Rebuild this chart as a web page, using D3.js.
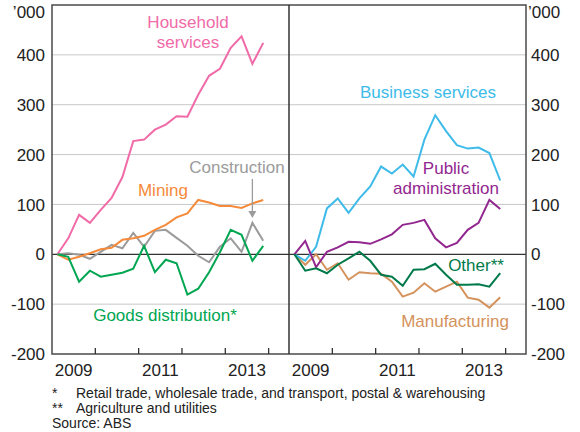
<!DOCTYPE html>
<html><head><meta charset="utf-8">
<script src="https://cdn.jsdelivr.net/npm/d3@7"></script>
<style>
html,body{margin:0;padding:0;background:#fff;}
text{font-family:"Liberation Sans",Arial,sans-serif;}
</style></head>
<body><svg id="c" width="580" height="432"></svg>
<script>
// quarterly observations, Feb 2009 - Nov 2013 (cumulative change, '000)
const quarters = d3.range(20).map(i => 2009.125 + i * 0.25);

const household = [0, 32, 79, 63, 89, 113, 155, 227, 230, 250, 260, 277, 276, 320, 358, 372, 414, 437, 382, 424];
const mining = [0, -11, -5, 2, 10, 13, 29, 32, 37, 49, 59, 74, 82, 109, 104, 97, 97, 93, 102, 109];
const construction = [0, 2, -1, -9, 5, 19, 12, 43, 15, 47, 49, 33, 17, -3, -16, 15, 32, 5, 63, 27];
const goodsDistribution = [0, -5, -55, -33, -45, -41, -37, -29, 17, -36, -11, -18, -81, -69, -36, 4, 49, 39, -13, 17];

const business = [0, -13, 15, 92, 112, 83, 112, 136, 176, 162, 180, 156, 230, 279, 247, 219, 212, 214, 203, 148];
const publicAdmin = [0, 27, -26, 5, 14, 25, 24, 21, 30, 40, 59, 63, 69, 32, 14, 23, 49, 63, 109, 91];
const other = [0, -33, -28, -38, -21, -8, 5, -13, -41, -45, -63, -31, -30, -19, -41, -61, -61, -60, -65, -38];
const manufacturing = [0, -21, 0, -31, -18, -51, -36, -38, -39, -55, -85, -77, -58, -75, -65, -55, -87, -91, -107, -86];

const yTicks = [-200, -100, 0, 100, 200, 300, 400];
const yearTicks = [2010, 2011, 2012, 2013, 2014];
const yearLabels = [2009, 2011, 2013];
const footnotes = [
  ["*", "Retail trade, wholesale trade, and transport, postal & warehousing"],
  ["**", "Agriculture and utilities"],
  ["", "Source: ABS"]
];

const svg = d3.select("#c");
svg.append("rect").attr("width", 580).attr("height", 432).attr("fill", "#fff");

const L = 52, M = 289, R = 526, T = 5, B = 354;
const y = d3.scaleLinear().domain([-200, 500]).range([B, T]);
const xDomain = [2009, 2014.47];
const xL = d3.scaleLinear().domain(xDomain).range([L, M]);
const xR = d3.scaleLinear().domain(xDomain).range([M, R]);

// grid
svg.append("g").selectAll("line").data(yTicks.filter(v => v !== 0 && v !== -200)).join("line")
  .attr("x1", L).attr("x2", R).attr("y1", d => y(d)).attr("y2", d => y(d))
  .attr("stroke", "#c8c8c8").attr("stroke-width", 1);
svg.append("line").attr("x1", L).attr("x2", R).attr("y1", y(0)).attr("y2", y(0))
  .attr("stroke", "#333").attr("stroke-width", 1.3);

// series lines
const panels = [
  {x: xL, series: [
    {v: construction, c: "#9b9b9b"},
    {v: mining, c: "#f58a3a"},
    {v: household, c: "#f06ba8"},
    {v: goodsDistribution, c: "#00a651"}
  ]},
  {x: xR, series: [
    {v: manufacturing, c: "#d4925c"},
    {v: business, c: "#3ebbe9"},
    {v: publicAdmin, c: "#92278f"},
    {v: other, c: "#007a4a"}
  ]}
];
panels.forEach(p => {
  const line = d3.line().x((d, i) => p.x(quarters[i])).y(d => y(d));
  p.series.forEach(s => {
    svg.append("path").attr("d", line(s.v)).attr("fill", "none")
      .attr("stroke", s.c).attr("stroke-width", 2).attr("stroke-linejoin", "miter");
  });
});

// frame
svg.append("rect").attr("x", L).attr("y", T).attr("width", R - L).attr("height", B - T)
  .attr("fill", "none").attr("stroke", "#4a4a4a").attr("stroke-width", 1.5);
svg.append("line").attr("x1", M).attr("x2", M).attr("y1", T).attr("y2", B)
  .attr("stroke", "#333").attr("stroke-width", 1.5);

// x ticks (inside) and labels
[xL, xR].forEach(x => {
  svg.append("g").selectAll("line").data(yearTicks).join("line")
    .attr("x1", d => x(d)).attr("x2", d => x(d)).attr("y1", B).attr("y2", B - 6)
    .attr("stroke", "#333").attr("stroke-width", 1.3);
  svg.append("g").selectAll("text").data(yearLabels).join("text")
    .attr("x", d => x(d + 0.5)).attr("y", 376).attr("text-anchor", "middle")
    .attr("font-size", 17).attr("fill", "#222").text(d => d);
});

// y labels
svg.append("g").selectAll("text").data(yTicks).join("text")
  .attr("x", 45).attr("y", d => y(d)).attr("dy", "0.36em").attr("text-anchor", "end")
  .attr("font-size", 17).attr("fill", "#222").text(d => d);
svg.append("g").selectAll("text").data(yTicks).join("text")
  .attr("x", 531).attr("y", d => y(d)).attr("dy", "0.36em").attr("text-anchor", "start")
  .attr("font-size", 17).attr("fill", "#222").text(d => d);
svg.append("text").attr("x", 45).attr("y", 18).attr("text-anchor", "end")
  .attr("font-size", 17).attr("fill", "#222").text("’000");
svg.append("text").attr("x", 528).attr("y", 18).attr("text-anchor", "start")
  .attr("font-size", 17).attr("fill", "#222").text("’000");

// series labels
const labels = [
  {t: ["Household", "services"], x: 188, y: 28, c: "#f06ba8"},
  {t: ["Construction"], x: 237, y: 173, c: "#9b9b9b"},
  {t: ["Mining"], x: 163, y: 196, c: "#f58a3a"},
  {t: ["Goods distribution*"], x: 165, y: 321, c: "#00a651"},
  {t: ["Business services"], x: 428, y: 98, c: "#3ebbe9"},
  {t: ["Public", "administration"], x: 446, y: 174, c: "#92278f"},
  {t: ["Other**"], x: 476, y: 271, c: "#007a4a"},
  {t: ["Manufacturing"], x: 455, y: 327, c: "#d4925c"}
];
labels.forEach(l => {
  const te = svg.append("text").attr("text-anchor", "middle").attr("font-size", 17).attr("fill", l.c);
  l.t.forEach((s, i) => te.append("tspan").attr("x", l.x).attr("y", l.y + i * 20).text(s));
});

// construction arrow pointing to Aug 2013 value
const ax = xL(quarters[18]), tipY = y(construction[18]) - 5;
svg.append("line").attr("x1", ax).attr("x2", ax).attr("y1", 179).attr("y2", tipY - 4)
  .attr("stroke", "#9b9b9b").attr("stroke-width", 1.3);
svg.append("path").attr("d", `M${ax - 4},${tipY - 7}L${ax + 4},${tipY - 7}L${ax},${tipY}Z`)
  .attr("fill", "#9b9b9b");

// footnotes
footnotes.forEach((f, i) => {
  const yy = 398 + i * 15;
  if (f[0]) svg.append("text").attr("x", 52).attr("y", yy).attr("font-size", 14).attr("fill", "#222").text(f[0]);
  svg.append("text").attr("x", f[0] ? 76 : 52).attr("y", yy).attr("font-size", 14).attr("fill", "#222").text(f[1]);
});
</script></body></html>
